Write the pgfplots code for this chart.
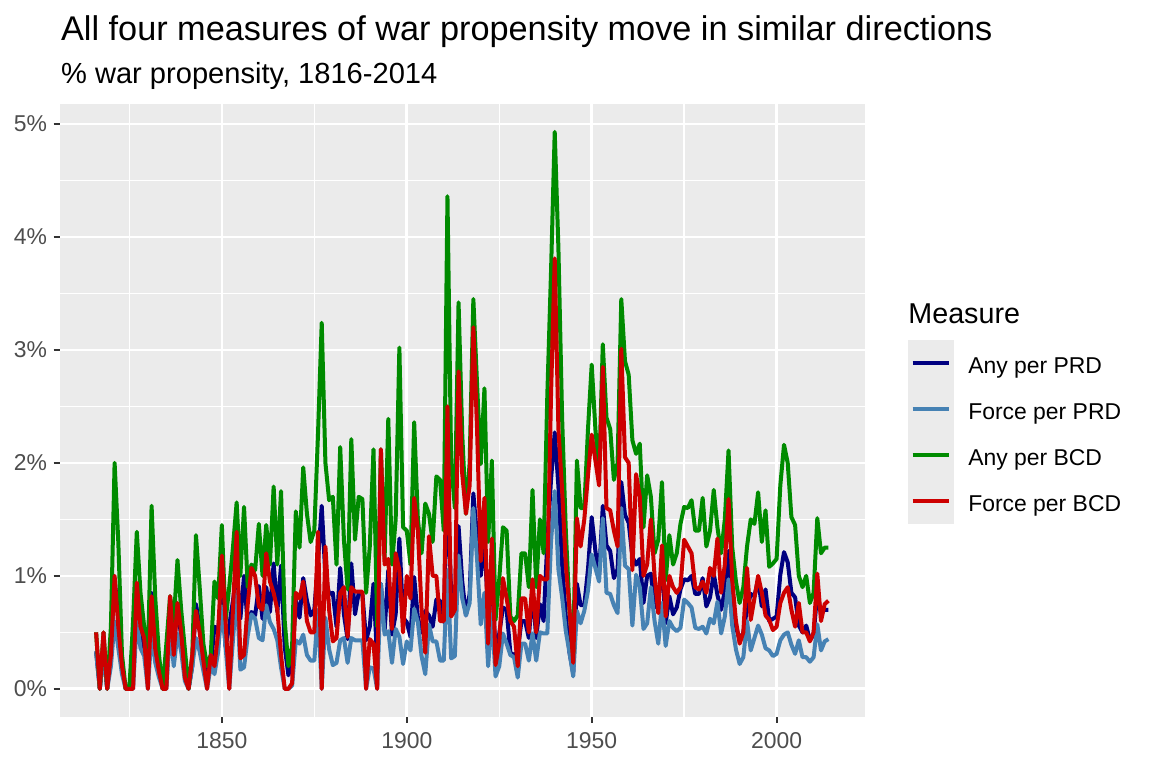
\documentclass[border=0pt]{standalone}
\usepackage{pgfplots}
\pgfplotsset{compat=1.18}
\usepackage{pgfplotstable}
\usepackage{fontspec}
\setmainfont{Liberation Sans}
\definecolor{anyprd}{HTML}{000080}
\definecolor{forceprd}{HTML}{4682B4}
\definecolor{anybcd}{HTML}{008B00}
\definecolor{forcebcd}{HTML}{CD0000}
\definecolor{panelbg}{HTML}{EBEBEB}
\definecolor{ticktext}{HTML}{4D4D4D}
\definecolor{tickcol}{HTML}{333333}

% year, Any per PRD (N), Force per PRD (S), Any per BCD (G), Force per BCD (R), in %
\pgfplotstableread{
year N S G R
1816 0.33 0.33 0.50 0.50
1817 0 0 0 0
1818 0.33 0.33 0.50 0.50
1819 0 0 0 0
1820 0.36 0.20 0.55 0.30
1821 0.95 0.60 2.00 1.00
1822 0.70 0.36 1.30 0.55
1823 0.20 0.13 0.30 0.20
1824 0 0 0 0
1825 0 0 0 0
1826 0.39 0 0.60 0
1827 0.90 0.61 1.39 0.94
1828 0.55 0.36 0.85 0.55
1829 0.36 0.29 0.55 0.45
1830 0.20 0 0.30 0
1831 0.85 0.50 1.62 0.82
1832 0.45 0.23 0.80 0.35
1833 0.20 0.10 0.30 0.15
1834 0 0 0 0
1835 0.26 0 0.40 0
1836 0.53 0.53 0.82 0.82
1837 0.39 0.20 0.60 0.30
1838 0.74 0.49 1.14 0.76
1839 0.46 0.33 0.70 0.50
1840 0.23 0.07 0.35 0.10
1841 0 0 0 0
1842 0.20 0.20 0.30 0.30
1843 0.75 0.45 1.36 0.69
1844 0.55 0.33 0.90 0.50
1845 0.26 0.16 0.40 0.25
1846 0.13 0 0.20 0
1847 0.20 0.20 0.30 0.30
1848 0.55 0.13 0.95 0.20
1849 0.52 0.33 0.80 0.50
1850 0.90 0.73 1.45 1.18
1851 0.37 0.37 0.60 0.60
1852 0.56 0 0.90 0
1853 0.78 0.43 1.25 0.70
1854 1.02 0.86 1.65 1.39
1855 0.62 0.17 1.00 0.27
1856 1.00 0.19 1.61 0.30
1857 0.56 0.47 0.90 0.75
1858 0.68 0.66 1.10 1.07
1859 0.65 0.62 1.05 1.00
1860 0.91 0.45 1.46 0.73
1861 0.62 0.43 1.00 0.70
1862 0.90 0.74 1.45 1.20
1863 0.68 0.59 1.10 0.95
1864 1.11 0.53 1.79 0.85
1865 0.68 0.43 1.10 0.70
1866 1.09 0.19 1.75 0.30
1867 0.37 0 0.60 0
1868 0.12 0 0.20 0
1869 0.24 0.03 0.38 0.05
1870 0.79 0.43 1.57 0.85
1871 0.63 0.40 1.25 0.80
1872 0.98 0.48 1.96 0.95
1873 0.78 0.30 1.55 0.60
1874 0.65 0.25 1.30 0.50
1875 0.70 0.25 1.40 0.50
1876 1.13 0.70 2.26 1.39
1877 1.62 0 3.24 0
1878 1.00 0.63 2.00 1.26
1879 0.84 0.35 1.67 0.70
1880 0.85 0.21 1.70 0.42
1881 0.55 0.23 1.10 0.45
1882 1.07 0.43 2.14 0.85
1883 0.66 0.45 1.32 0.90
1884 0.44 0.23 0.88 0.46
1885 1.11 0.45 2.21 0.90
1886 0.66 0.43 1.32 0.86
1887 0.85 0.43 1.70 0.86
1888 0.84 0.43 1.68 0.86
1889 0.43 0 0.85 0
1890 0.55 0.19 1.26 0.44
1891 0.93 0.18 2.12 0.40
1892 0.24 0 0.55 0
1893 0.93 0.93 2.12 2.12
1894 0.51 0.48 1.15 1.10
1895 1.05 0.51 2.39 1.15
1896 0.48 0.23 1.10 0.53
1897 0.66 0.53 1.50 1.20
1898 1.33 0.46 3.02 1.05
1899 0.63 0.22 1.43 0.50
1900 0.59 0.42 1.40 1.00
1901 0.46 0.34 1.10 0.80
1902 0.99 0.71 2.36 1.69
1903 0.63 0.59 1.50 1.40
1904 0.50 0.29 1.20 0.70
1905 0.69 0.13 1.64 0.32
1906 0.65 0.57 1.55 1.35
1907 0.55 0.42 1.30 1.00
1908 0.79 0.42 1.88 1.00
1909 0.78 0.25 1.85 0.60
1910 0.59 0.25 1.40 0.60
1911 1.83 1.05 4.36 2.50
1912 0.84 0.27 2.00 0.64
1913 0.67 0.29 1.60 0.70
1914 1.44 1.18 3.42 2.81
1915 0.95 0.80 2.25 1.90
1916 0.65 0.65 1.55 1.55
1917 0.84 0.76 2.00 1.80
1918 1.73 1.60 3.45 3.20
1919 1.35 1.15 2.70 2.30
1920 1.00 0.57 1.99 1.13
1921 1.33 0.85 2.66 1.69
1922 0.65 0.20 1.30 0.40
1923 1.01 0.67 2.02 1.33
1924 0.31 0.11 0.61 0.21
1925 0.49 0.20 0.97 0.40
1926 0.72 0.49 1.43 0.98
1927 0.70 0.40 1.40 0.80
1928 0.32 0.30 0.64 0.60
1929 0.30 0.28 0.60 0.55
1930 0.33 0.10 0.65 0.20
1931 0.60 0.40 1.20 0.80
1932 0.60 0.40 1.20 0.80
1933 0.45 0.25 0.90 0.50
1934 0.88 0.49 1.76 0.97
1935 0.45 0.25 0.90 0.50
1936 0.75 0.50 1.50 1.00
1937 0.60 0.49 1.20 0.97
1938 1.30 0.49 2.60 0.97
1939 1.85 1.30 3.69 2.60
1940 2.27 1.75 4.93 3.81
1941 1.79 1.06 3.90 2.30
1942 1.10 0.81 2.40 1.76
1943 0.64 0.51 1.40 1.10
1944 0.32 0.32 0.70 0.70
1945 0.14 0.11 0.30 0.23
1946 0.93 0.69 2.02 1.51
1947 0.74 0.58 1.60 1.26
1948 0.74 0.69 1.60 1.50
1949 1.06 0.87 2.30 1.89
1950 1.52 1.19 2.87 2.25
1951 1.22 1.07 2.30 2.02
1952 1.01 0.95 1.90 1.80
1953 1.62 1.51 3.05 2.85
1954 1.27 0.85 2.40 1.60
1955 1.22 0.84 2.30 1.58
1956 0.98 0.74 1.85 1.40
1957 1.06 0.67 2.00 1.26
1958 1.83 1.60 3.45 3.01
1959 1.54 1.09 2.90 2.05
1960 1.47 1.06 2.78 2.00
1961 1.17 0.56 2.20 1.05
1962 1.10 1.01 2.08 1.90
1963 1.15 0.90 2.17 1.70
1964 0.76 0.53 1.43 1.00
1965 1.00 0.58 1.89 1.10
1966 1.02 0.90 1.70 1.50
1967 0.72 0.60 1.20 1.00
1968 0.79 0.40 1.32 0.67
1969 1.10 0.76 1.83 1.27
1970 0.58 0.38 0.96 0.64
1971 0.82 0.60 1.36 1.00
1972 0.66 0.54 1.10 0.90
1973 0.72 0.51 1.20 0.85
1974 0.88 0.54 1.46 0.90
1975 0.97 0.79 1.61 1.32
1976 0.96 0.76 1.60 1.26
1977 1.00 0.72 1.67 1.20
1978 0.84 0.54 1.40 0.90
1979 0.84 0.53 1.40 0.88
1980 0.98 0.55 1.69 0.95
1981 0.73 0.49 1.26 0.85
1982 0.81 0.62 1.40 1.07
1983 1.02 0.58 1.76 1.00
1984 0.83 0.77 1.43 1.33
1985 0.70 0.49 1.20 0.85
1986 0.87 0.64 1.50 1.10
1987 1.22 0.97 2.11 1.68
1988 0.73 0.56 1.25 0.96
1989 0.55 0.35 0.95 0.60
1990 0.43 0.22 0.76 0.40
1991 0.50 0.28 0.90 0.50
1992 0.71 0.60 1.26 1.07
1993 0.84 0.34 1.50 0.61
1994 0.82 0.45 1.46 0.80
1995 0.97 0.56 1.74 1.00
1996 0.73 0.48 1.30 0.85
1997 0.88 0.36 1.58 0.65
1998 0.60 0.34 1.08 0.61
1999 0.62 0.29 1.11 0.52
2000 0.64 0.31 1.15 0.55
2001 1.01 0.43 1.80 0.76
2002 1.21 0.48 2.16 0.85
2003 1.12 0.50 2.00 0.90
2004 0.85 0.39 1.52 0.70
2005 0.81 0.31 1.45 0.55
2006 0.56 0.43 1.00 0.76
2007 0.50 0.28 0.90 0.50
2008 0.56 0.28 1.00 0.50
2009 0.43 0.24 0.76 0.42
2010 0.48 0.28 0.85 0.50
2011 0.85 0.57 1.51 1.02
2012 0.67 0.34 1.20 0.60
2013 0.70 0.42 1.25 0.75
2014 0.70 0.44 1.25 0.78
}\wardata

\begin{document}
\begin{tikzpicture}
\useasboundingbox (0bp,0bp) rectangle (576bp,384bp);
\begin{axis}[
  at={(29.75bp,25.65bp)}, anchor=south west,
  scale only axis, width=402.75bp, height=306.35bp,
  xmin=1806.1, xmax=2023.9, ymin=-0.2465, ymax=5.1765,
  axis background/.style={fill=panelbg},
  axis line style={draw=none},
  xtick={1850,1900,1950,2000},
  xticklabels={1850,1900,1950,2000},
  minor xtick={1825,1875,1925,1975},
  ytick={0,1,2,3,4,5},
  yticklabels={0\%,1\%,2\%,3\%,4\%,5\%},
  minor ytick={0.5,1.5,2.5,3.5,4.5},
  grid=both,
  major grid style={white, line width=1.36bp},
  minor grid style={white, line width=0.68bp},
  tick align=outside, tick pos=left,
  major tick length=3bp, minor tick length=0pt,
  major tick style={tickcol, line width=1.07bp},
  minor tick style={draw=none},
  xticklabel style={font=\fontsize{11.5}{13}\selectfont, text=ticktext, inner sep=0pt, anchor=north, yshift=-4.7bp},
  yticklabel style={font=\fontsize{11.5}{13}\selectfont, text=ticktext, inner sep=0pt, anchor=east, xshift=-3.05bp},
  legend cell align=left,
  legend style={at={(1.0534,0.6148)}, anchor=north west, draw=none, fill=none,
    inner sep=0pt, outer sep=0pt, row sep=0pt, column sep=0pt,
    font=\fontsize{11.5}{13}\selectfont,
    nodes={inner sep=0pt, anchor=base west}},
  legend image code/.code={
    \path[fill=panelbg, draw=none, overlay] (0bp,-6.5bp) rectangle (23bp,16.5bp);
    \draw[#1, overlay] (2.3bp,5bp) -- (20.7bp,5bp);
    \path[draw=none, fill=none] (0bp,-6.5bp) rectangle (30.15bp,16.5bp);
  },
]
\addplot[anyprd, line width=2bp, line join=round] table[x=year, y=N]{\wardata};
\addplot[forceprd, line width=2bp, line join=round] table[x=year, y=S]{\wardata};
\addplot[anybcd, line width=2bp, line join=round] table[x=year, y=G]{\wardata};
\addplot[forcebcd, line width=2bp, line join=round] table[x=year, y=R]{\wardata};
\legend{Any per PRD, Force per PRD, Any per BCD, Force per BCD}
\end{axis}
\node[anchor=base west, inner sep=0pt, font=\fontsize{17.2}{20}\selectfont] at (30.35bp,363.65bp) {All four measures of war propensity move in similar directions};
\node[anchor=base west, inner sep=0pt, font=\fontsize{14.6}{17}\selectfont] at (30.35bp,342bp) {\% war propensity, 1816-2014};
\node[anchor=base west, inner sep=0pt, font=\fontsize{14.4}{17}\selectfont] at (454bp,222.35bp) {Measure};
\end{tikzpicture}
\end{document}
